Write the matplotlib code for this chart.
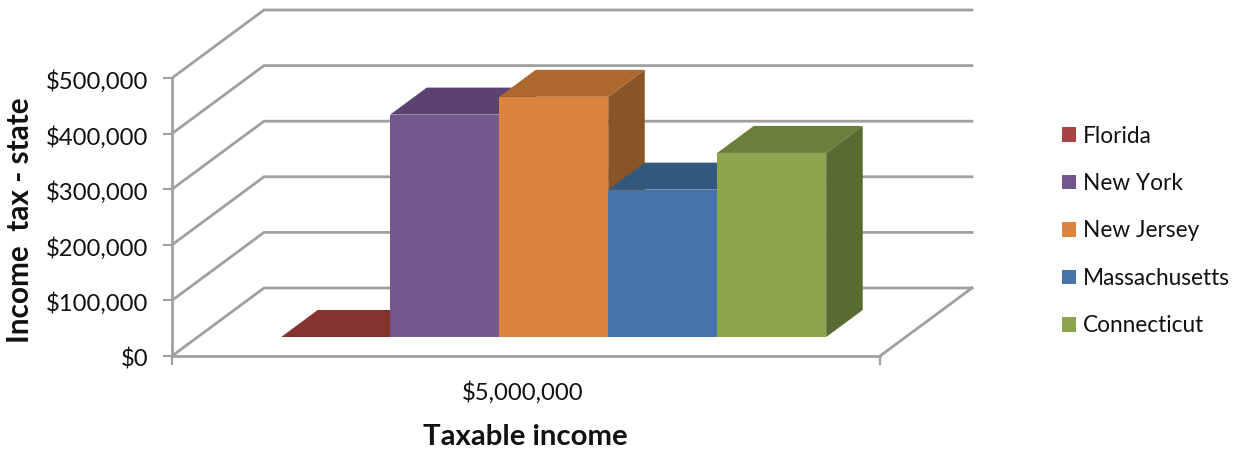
import matplotlib
matplotlib.use('Agg')
import matplotlib.pyplot as plt
from matplotlib.patches import Patch, Polygon
from matplotlib.transforms import Affine2D

plt.rcParams['font.family'] = ['Lato', 'DejaVu Sans']

# values
states = ['Florida', 'New York', 'New Jersey', 'Massachusetts', 'Connecticut']
tax = [0, 400000, 432000, 265000, 331000]
front_colors = ['#A94442', '#735890', '#DC833D', '#4674A8', '#8BA64F']
top_colors = ['#84332F', '#5B4273', '#AD6830', '#33587F', '#6A7F3C']
side_colors = ['#6E2A28', '#4A3560', '#8A5526', '#294766', '#586B30']
y_ticks = [0, 100000, 200000, 300000, 400000, 500000]
category = '$5,000,000'

W, H = 1243, 450
left, right, bottom, top = 172, 880, 356, 78
grid_col = '#A0A0A0'

fig = plt.figure(figsize=(W / 100, H / 100), dpi=100)
ax = fig.add_axes([left / W, 1 - bottom / H, (right - left) / W, (bottom - top) / H])
ax.set_xlim(0, 1)
ax.set_ylim(0, 500000)
ax.patch.set_visible(False)


def proj(x, y, d):
    # oblique projection, d=0 is the front of the floor, d=1 the back wall
    return x + d * 92 / (right - left), y + d * 68 / (bottom - top) * 500000


# walls and floor
for v in y_ticks:
    x0, y0 = proj(0, v, 0)
    x1, y1 = proj(0, v, 1)
    x2, y2 = proj(1, v, 1)
    ax.plot([x0, x1, x2], [y0, y1, y2], color=grid_col, lw=2, clip_on=False, zorder=1,
            solid_joinstyle='miter')
xa, ya = proj(1, 0, 0)
xb, yb = proj(1, 0, 1)
ax.plot([xa, xb], [ya, yb], color=grid_col, lw=2, clip_on=False, zorder=1)

# bars
n = len(states)
bw = 109 / (right - left)
start = (1 - n * bw) / 2 + 2 / (right - left)
d0, d1 = 19 / 68, 46 / 68
for i in range(n):
    xl = start + i * bw
    xr = xl + bw
    v = tax[i]
    z = 2 + i * 0.1
    top_face = [proj(xl, v, d0), proj(xr, v, d0), proj(xr, v, d1), proj(xl, v, d1)]
    side_face = [proj(xr, 0, d0), proj(xr, v, d0), proj(xr, v, d1), proj(xr, 0, d1)]
    ax.add_patch(Polygon(side_face, color=side_colors[i], lw=0, clip_on=False, zorder=z))
    ax.add_patch(Polygon(top_face, color=top_colors[i], lw=0, clip_on=False, zorder=z))
    fx, fy = proj(xl, 0, d0)
    ax.bar(fx, v, bw, bottom=fy, align='edge', color=front_colors[i], lw=0, clip_on=False, zorder=z)

for s in ['top', 'right']:
    ax.spines[s].set_visible(False)
for s in ['left', 'bottom']:
    ax.spines[s].set_color(grid_col)
    ax.spines[s].set_linewidth(2)
    ax.spines[s].set_zorder(1.5)

ax.set_yticks(y_ticks)
ax.set_yticklabels(['${:,}'.format(v) for v in y_ticks])
ax.set_xticks([0, 1])
ax.set_xticklabels(['', ''])
ax.tick_params(color=grid_col, width=1.5, length=6.5, labelcolor='#111111', pad=10.5, labelsize=17.2)
# labels sit a little below their ticks in the original
for lab in ax.get_yticklabels():
    lab.set_transform(lab.get_transform() + Affine2D().translate(0, -1.5))
ax.text(0.5 - 3 / (right - left), -37 / (bottom - top) * 500000, category, ha='center', va='center',
        fontsize=17.2, color='#111111', clip_on=False)

fig.text(525 / W, 1 - 437 / H, 'Taxable income', ha='center', va='center', fontsize=21.2,
         fontweight='bold', color='#111111')
fig.text(20 / W, 1 - 220 / H, 'Income  tax - state', rotation=90, ha='center', va='center',
         fontsize=21.4, fontweight='bold', color='#111111')

handles = [Patch(color=c, lw=0) for c in front_colors]
fig.legend(handles, states, loc='center left', bbox_to_anchor=(1042 / W, 1 - 231 / H), frameon=False,
           fontsize=16.3, handlelength=0.62, handleheight=0.62, handletextpad=0.27, labelspacing=1.17,
           labelcolor='#111111')

fig.savefig('out.png', dpi=100)
